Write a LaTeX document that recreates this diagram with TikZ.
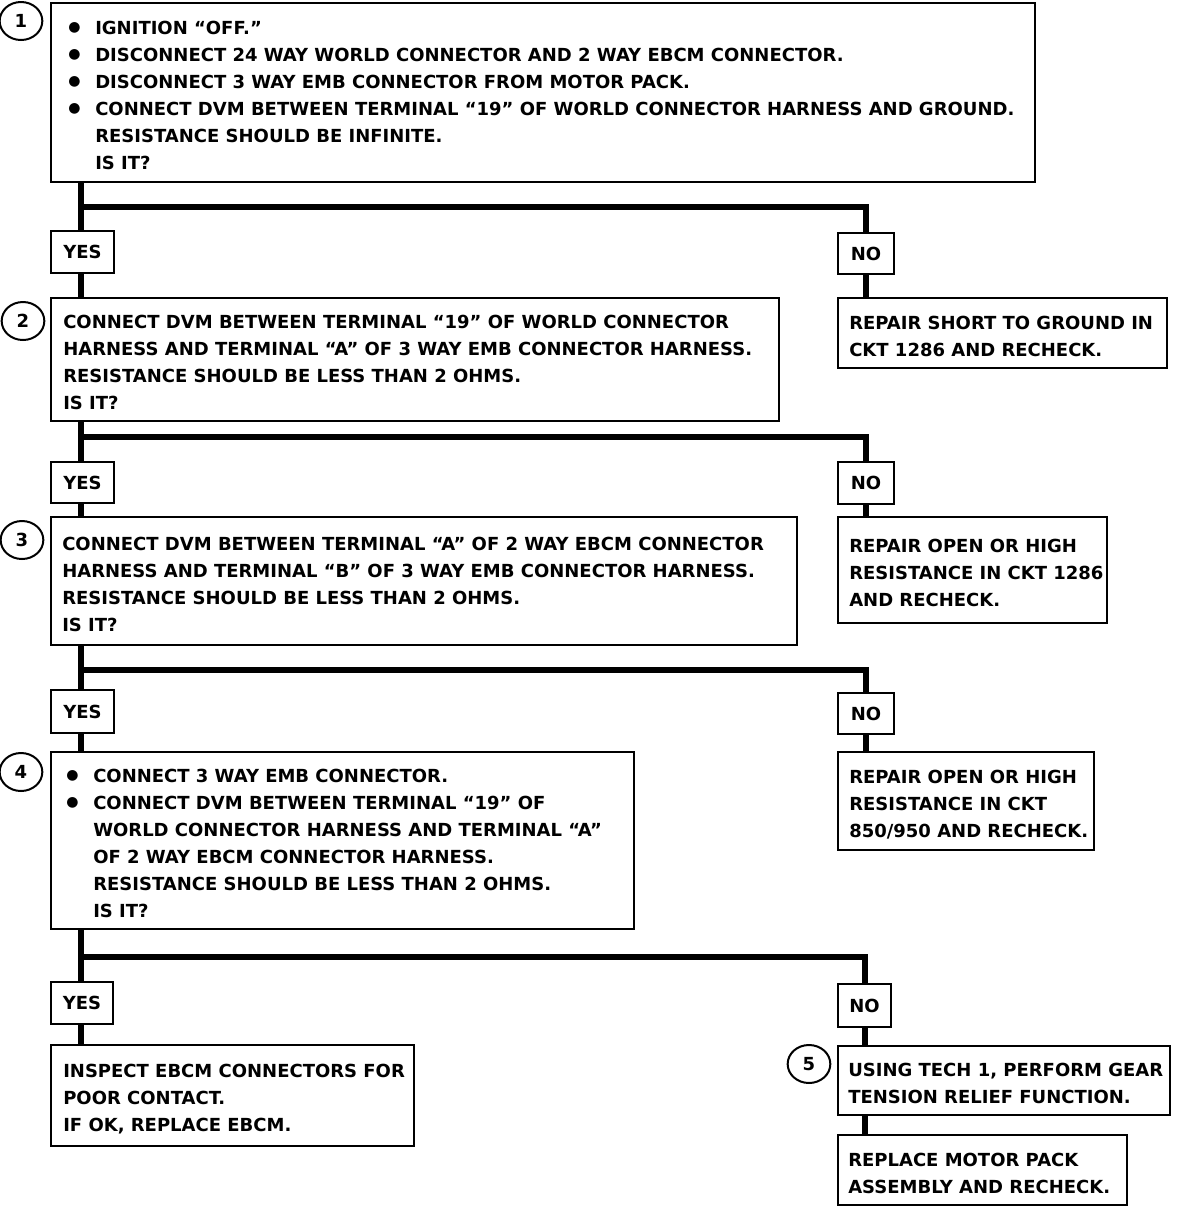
\documentclass[tikz,border=0pt]{standalone}
\usepackage{fontspec}
\setmainfont{DejaVu Sans}
\usetikzlibrary{shapes.geometric}
\newcommand\bul{\makebox[20.25pt][l]{\raisebox{2.6pt}{\fontsize{10.5pt}{10pt}\selectfont ●}}}
\newcommand\ind{\hspace*{20.25pt}}
\tikzset{
  txtfont/.style={font=\fontsize{13.5pt}{20.25pt}\selectfont\bfseries},
  boxshape/.style={draw, line width=2pt, anchor=north west, inner sep=0pt, outer sep=0pt},
  txt/.style={anchor=west, align=left, inner sep=0pt, yshift=-2.5pt, txtfont},
  lab/.style={draw, line width=2pt, anchor=north west, align=center, inner sep=0pt, outer sep=0pt, txtfont},
  conn/.style={line width=4.5pt},
  num/.style={draw, ellipse, line width=1.5pt, minimum width=32pt, minimum height=28.5pt, inner sep=0pt, txtfont},
}
\newcommand\tbox[7]{%
  \pgfmathsetmacro\tbw{(#4-#2)*0.75}%
  \pgfmathsetmacro\tbh{(#5-#3)*0.75}%
  \pgfmathsetmacro\tbp{#6*0.75}%
  \node[boxshape, minimum width=\tbw pt, minimum height=\tbh pt] (#1) at (#2,#3) {};%
  \node[txt] (#1t) at ([xshift=\tbp pt]#1.west) {#7};%
}
\newcommand\lbox[6]{%
  \pgfmathsetmacro\tbw{(#4-#2)*0.75}%
  \pgfmathsetmacro\tbh{(#5-#3)*0.75}%
  \node[lab, minimum width=\tbw pt, minimum height=\tbh pt] (#1) at (#2,#3) {#6};%
}
\begin{document}
\begin{tikzpicture}[x=0.75pt,y=-0.75pt]
\useasboundingbox (0,0) rectangle (1200,1208);
% main step boxes
\tbox{B1}{51}{3}{1035}{182}{17}{\bul IGNITION “OFF.”\\
\bul DISCONNECT 24 WAY WORLD CONNECTOR AND 2 WAY EBCM CONNECTOR.\\
\bul DISCONNECT 3 WAY EMB CONNECTOR FROM MOTOR PACK.\\
\bul CONNECT DVM BETWEEN TERMINAL “19” OF WORLD CONNECTOR HARNESS AND GROUND.\\
\ind RESISTANCE SHOULD BE INFINITE.\\
\ind IS IT?}
\tbox{B2}{51}{298}{779}{421}{12}{CONNECT DVM BETWEEN TERMINAL “19” OF WORLD CONNECTOR\\
HARNESS AND TERMINAL “A” OF 3 WAY EMB CONNECTOR HARNESS.\\
RESISTANCE SHOULD BE LESS THAN 2 OHMS.\\
IS IT?}
\tbox{B3}{51}{517}{797}{645}{11}{CONNECT DVM BETWEEN TERMINAL “A” OF 2 WAY EBCM CONNECTOR\\
HARNESS AND TERMINAL “B” OF 3 WAY EMB CONNECTOR HARNESS.\\
RESISTANCE SHOULD BE LESS THAN 2 OHMS.\\
IS IT?}
\tbox{B4}{51}{752}{634}{929}{15}{\bul CONNECT 3 WAY EMB CONNECTOR.\\
\bul CONNECT DVM BETWEEN TERMINAL “19” OF\\
\ind WORLD CONNECTOR HARNESS AND TERMINAL “A”\\
\ind OF 2 WAY EBCM CONNECTOR HARNESS.\\
\ind RESISTANCE SHOULD BE LESS THAN 2 OHMS.\\
\ind IS IT?}
\tbox{I}{51}{1045}{414}{1146}{12}{INSPECT EBCM CONNECTORS FOR\\
POOR CONTACT.\\
IF OK, REPLACE EBCM.}
% repair boxes
\tbox{R1}{838}{298}{1167}{368}{11}{REPAIR SHORT TO GROUND IN\\
CKT 1286 AND RECHECK.}
\tbox{R2}{838}{517}{1107}{623}{11}{REPAIR OPEN OR HIGH\\
RESISTANCE IN CKT 1286\\
AND RECHECK.}
\tbox{R3}{838}{752}{1094}{850}{11}{REPAIR OPEN OR HIGH\\
RESISTANCE IN CKT\\
850/950 AND RECHECK.}
\tbox{B5}{838}{1046}{1170}{1115}{10}{USING TECH 1, PERFORM GEAR\\
TENSION RELIEF FUNCTION.}
\tbox{R4}{838}{1135}{1127}{1205}{10}{REPLACE MOTOR PACK\\
ASSEMBLY AND RECHECK.}
% YES / NO labels
\lbox{Y1}{51}{231}{114}{273}{YES}
\lbox{N1}{838}{233}{894}{274}{NO}
\lbox{Y2}{51}{462}{114}{503}{YES}
\lbox{N2}{838}{462}{894}{504}{NO}
\lbox{Y3}{51}{690}{114}{733}{YES}
\lbox{N3}{838}{693}{894}{734}{NO}
\lbox{Y4}{51}{982}{113}{1024}{YES}
\lbox{N4}{838}{984}{891}{1027}{NO}
% step numbers
\node[num] (c1) at (21,21) {1};
\node[num] (c2) at (23,321) {2};
\node[num] (c3) at (22,540) {3};
\node[num] (c4) at (21,772) {4};
\node[num] (c5) at (809,1064) {5};
% junctions
\coordinate (j1) at (81,207);
\coordinate (j2) at (81,437);
\coordinate (j3) at (81,670);
\coordinate (j4) at (81,957);
% trunk
\draw[conn] (j1 |- B1.south) -- (j1 |- Y1.north);
\draw[conn] (j1 |- Y1.south) -- (j1 |- B2.north);
\draw[conn] (j2 |- B2.south) -- (j2 |- Y2.north);
\draw[conn] (j2 |- Y2.south) -- (j2 |- B3.north);
\draw[conn] (j3 |- B3.south) -- (j3 |- Y3.north);
\draw[conn] (j3 |- Y3.south) -- (j3 |- B4.north);
\draw[conn] (j4 |- B4.south) -- (j4 |- Y4.north);
\draw[conn] (j4 |- Y4.south) -- (j4 |- I.north);
% branches
\draw[conn] (j1) -| (N1.north);
\draw[conn] (j2) -| (N2.north);
\draw[conn] (j3) -| (N3.north);
\draw[conn] (j4) -| (N4.north);
\draw[conn] (N1.south) -- (N1.south |- R1.north);
\draw[conn] (N2.south) -- (N2.south |- R2.north);
\draw[conn] (N3.south) -- (N3.south |- R3.north);
\draw[conn] (N4.south) -- (N4.south |- B5.north);
\draw[conn] (N4.south |- B5.south) -- (N4.south |- R4.north);
\end{tikzpicture}
\end{document}
